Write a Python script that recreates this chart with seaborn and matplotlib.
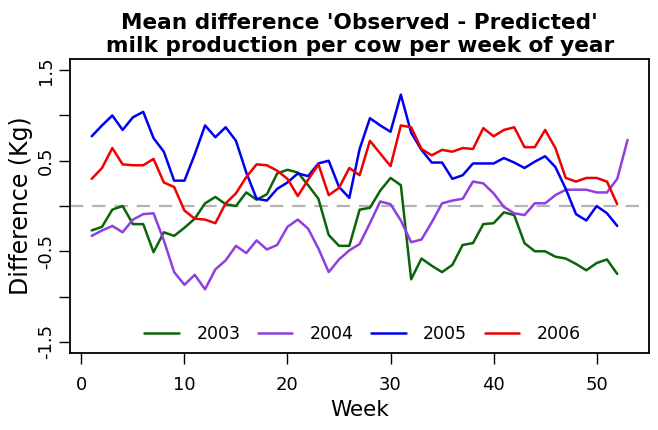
import numpy as np
import pandas as pd
import matplotlib
matplotlib.use("Agg")
import matplotlib.pyplot as plt
import seaborn as sns

# values, weeks 1..52 (2004 goes to 53)
y2003 = [-0.27, -0.23, -0.04, 0.00, -0.20, -0.20, -0.51, -0.29, -0.33, -0.24,
         -0.14, 0.03, 0.10, 0.02, 0.00, 0.15, 0.07, 0.13, 0.36, 0.40,
         0.37, 0.23, 0.08, -0.32, -0.44, -0.44, -0.04, -0.02, 0.17, 0.31,
         0.23, -0.81, -0.58, -0.66, -0.73, -0.65, -0.43, -0.41, -0.20, -0.19,
         -0.07, -0.10, -0.41, -0.50, -0.50, -0.56, -0.58, -0.64, -0.71, -0.63,
         -0.59, -0.75]
y2004 = [-0.33, -0.27, -0.22, -0.29, -0.15, -0.09, -0.08, -0.38, -0.73, -0.87,
         -0.76, -0.92, -0.70, -0.60, -0.44, -0.52, -0.38, -0.48, -0.43, -0.23,
         -0.15, -0.25, -0.47, -0.73, -0.59, -0.49, -0.42, -0.19, 0.05, 0.02,
         -0.16, -0.40, -0.37, -0.18, 0.03, 0.06, 0.08, 0.27, 0.25, 0.14,
         -0.01, -0.08, -0.10, 0.03, 0.03, 0.12, 0.18, 0.18, 0.18, 0.15,
         0.15, 0.30, 0.73]
y2005 = [0.77, 0.89, 1.00, 0.84, 0.98, 1.04, 0.75, 0.60, 0.28, 0.28,
         0.57, 0.89, 0.76, 0.87, 0.72, 0.37, 0.08, 0.06, 0.19, 0.26,
         0.36, 0.33, 0.47, 0.50, 0.21, 0.09, 0.63, 0.97, 0.89, 0.82,
         1.23, 0.81, 0.62, 0.48, 0.48, 0.30, 0.34, 0.47, 0.47, 0.47,
         0.53, 0.48, 0.42, 0.49, 0.55, 0.43, 0.19, -0.09, -0.16, 0.00,
         -0.08, -0.22]
y2006 = [0.30, 0.42, 0.64, 0.46, 0.45, 0.45, 0.52, 0.26, 0.21, -0.05,
         -0.14, -0.15, -0.19, 0.03, 0.14, 0.32, 0.46, 0.45, 0.39, 0.30,
         0.11, 0.29, 0.46, 0.12, 0.20, 0.42, 0.34, 0.72, 0.58, 0.44,
         0.89, 0.87, 0.63, 0.56, 0.62, 0.60, 0.64, 0.63, 0.86, 0.77,
         0.84, 0.87, 0.65, 0.65, 0.84, 0.64, 0.31, 0.27, 0.31, 0.31,
         0.27, 0.02]
years = ["2003", "2004", "2005", "2006"]
colours = ["#0a650a", "#8f3fe0", "#0000f0", "#f00000"]

frames = []
for yr, vals in zip(years, [y2003, y2004, y2005, y2006]):
    frames.append(pd.DataFrame({"Week": np.arange(1, len(vals) + 1),
                                "Difference": vals, "Year": yr}))
df = pd.concat(frames, ignore_index=True)

sns.set_style("white")
plt.rcParams["font.family"] = ["DejaVu Sans"]
for k in ["text.color", "axes.labelcolor", "xtick.color", "ytick.color"]:
    plt.rcParams[k] = "black"

fig = plt.figure(figsize=(6.58, 4.30), dpi=100)
ax = fig.add_axes([0.1068, 0.1798, 0.8795, 0.6822])

ax.axhline(0, color="#b4b4b4", lw=1.6, dashes=(6, 4), zorder=1)
sns.lineplot(data=df, x="Week", y="Difference", hue="Year",
             palette=dict(zip(years, colours)), lw=1.8, ax=ax, zorder=2)

ax.set_xlim(-1.08, 55.08)
ax.set_ylim(-1.62, 1.62)
ax.set_xticks([0, 10, 20, 30, 40, 50])
yt = [-1.5, -1.0, -0.5, 0.0, 0.5, 1.0, 1.5]
ax.set_yticks(yt)
ax.set_yticklabels(["-1.5", "", "-0.5", "", "0.5", "", "1.5"], rotation=90, va="center")
ax.tick_params(axis="both", direction="out", length=8, width=1, color="black",
               labelsize=13, left=True, bottom=True)
ax.tick_params(axis="x", pad=9)
ax.tick_params(axis="y", pad=3)
for s in ax.spines.values():
    s.set_color("black")
    s.set_linewidth(1.3)

ax.set_xlabel("Week", fontsize=15.5, labelpad=4)
ax.set_ylabel("Difference (Kg)", fontsize=17, labelpad=3)
ax.set_title("Mean difference 'Observed - Predicted'\nmilk production per cow per week of year",
             fontsize=15.6, fontweight="bold", pad=5, linespacing=1.2)

ax.legend(loc="center", bbox_to_anchor=(0.505, 0.065), ncol=4, frameon=False,
          fontsize=12.5, handlelength=2.0, columnspacing=1.0, handletextpad=1.0)

fig.savefig("out.png", dpi=100)
